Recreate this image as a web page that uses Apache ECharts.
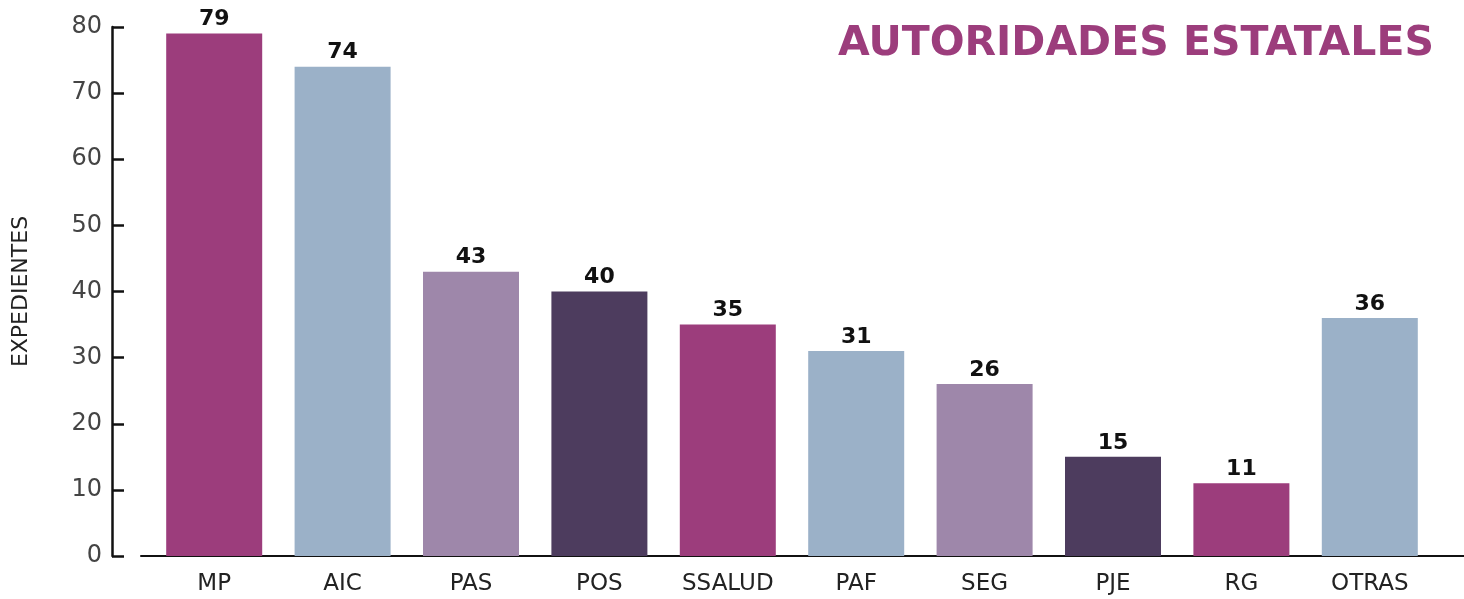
<!DOCTYPE html>
<html lang="es">
<head>
    <meta charset="UTF-8">
    <title>Autoridades estatales</title>
    <script type="text/javascript" src="https://cdn.jsdelivr.net/npm/echarts@6/dist/echarts.min.js"></script>
    <style>
        html, body { margin:0; padding:0; background:#fff; }
        #chart { width:1464px; height:599px; }
    </style>
</head>
<body>
<div id="chart"></div>
<script type="text/javascript">
  // datos
  var categorias = ['MP','AIC','PAS','POS','SSALUD','PAF','SEG','PJE','RG','OTRAS'];
  var expedientes = [79,74,43,40,35,31,26,15,11,36];
  var colores = ['#9c3d7c','#9bb1c8','#9e87aa','#4d3c5e','#9c3d7c','#9bb1c8','#9e87aa','#4d3c5e','#9c3d7c','#9bb1c8'];
  var yTicks = [0,10,20,30,40,50,60,70,80];

  var chart = echarts.init(document.getElementById('chart'));

  var barData = [];
  for (var i = 0; i < expedientes.length; i++) {
    barData.push({ value: expedientes[i], itemStyle: { color: colores[i] } });
  }

  var option = {
    animation: false,
    title: {
      text: 'AUTORIDADES ESTATALES',
      right: 25, top: 19,
      textStyle: { color:'#9c3d7c', fontSize:41, fontWeight:'bold', fontFamily:'DejaVu Sans' }
    },
    grid: [
      // eje y visible
      { left:112, top:27, bottom:43, width:12 },
      // barras
      { left:150, top:27, bottom:43, right:30 },
      // linea base
      { left:141, top:27, bottom:43, right:0 }
    ],
    xAxis: [
      { gridIndex:0, type:'value', show:false },
      { gridIndex:1, type:'category', data:categorias,
        axisLine:{ show:false }, axisTick:{ show:false },
        axisLabel:{ margin:17, fontSize:23, color:'#222', fontFamily:'DejaVu Sans' } },
      { gridIndex:2, type:'value', min:0, max:1,
        axisLine:{ show:true, lineStyle:{ color:'#111', width:2 } },
        axisTick:{ show:false }, axisLabel:{ show:false }, splitLine:{ show:false } }
    ],
    yAxis: [
      { gridIndex:0, type:'value', min:yTicks[0], max:yTicks[yTicks.length-1], interval:10,
        name:'EXPEDIENTES', nameLocation:'middle', nameGap:80, nameRotate:90,
        nameTextStyle:{ fontSize:22, color:'#222', fontFamily:'DejaVu Sans' },
        axisLine:{ show:true, lineStyle:{ color:'#111', width:2.5 } },
        axisTick:{ show:true, inside:true, length:12, lineStyle:{ color:'#111', width:2.5 } },
        axisLabel:{ margin:10, fontSize:24, color:'#444', fontFamily:'DejaVu Sans' },
        splitLine:{ show:false } },
      { gridIndex:1, type:'value', min:0, max:80, show:false },
      { gridIndex:2, type:'value', min:0, max:80, show:false }
    ],
    series: [
      {
        name:'Expedientes',
        type:'bar',
        xAxisIndex:1, yAxisIndex:1,
        barWidth:96,
        data:barData,
        label:{ show:true, position:'top', distance:3, fontSize:22, fontWeight:'bold', color:'#111', fontFamily:'DejaVu Sans' }
      }
    ]
  };
  chart.setOption(option);
</script>
</body>
</html>
